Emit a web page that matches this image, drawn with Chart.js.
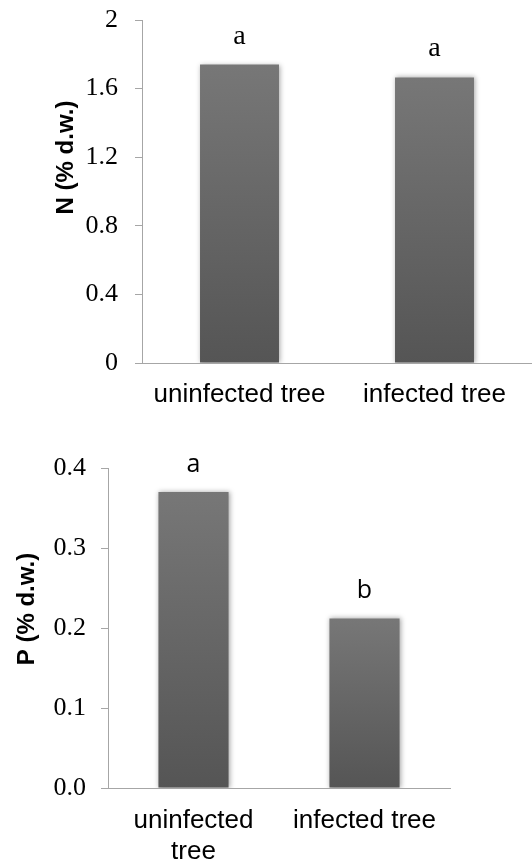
<!DOCTYPE html>
<html>
<head>
<meta charset="utf-8">
<script src="https://cdn.jsdelivr.net/npm/chart.js@4.4.1/dist/chart.umd.min.js"></script>
<style>
  html, body { margin: 0; padding: 0; background: #ffffff; }
  #wrap { position: relative; width: 532px; height: 861px; overflow: hidden; }
  #c1 { position: absolute; left: 0; top: 0; }
  #c2 { position: absolute; left: 0; top: 420px; }
</style>
</head>
<body>
<div id="wrap">
  <canvas id="c1" width="532" height="420"></canvas>
  <canvas id="c2" width="532" height="441"></canvas>
</div>
<script>
// ---- data ----
const categoriesN = ['uninfected tree', 'infected tree'];
const valuesN = [1.74, 1.665];
const lettersN = ['a', 'a'];
const tickLabelsN = ['0', '0.4', '0.8', '1.2', '1.6', '2'];
const titleN = 'N (% d.w.)';

const categoriesP = [['uninfected', 'tree'], 'infected tree'];
const valuesP = [0.370, 0.212];
const lettersP = ['a', 'b'];
const tickLabelsP = ['0.0', '0.1', '0.2', '0.3', '0.4'];
const titleP = 'P (% d.w.)';

const AXIS_COLOR = '#a6a6a6';
const TITLE_FONT = 'bold 24px "Liberation Sans", Arial, sans-serif';

function barGradient(ctx) {
  const chart = ctx.chart;
  const yScale = chart.scales && chart.scales.y;
  if (!chart.chartArea || !yScale || ctx.raw === undefined) return '#666666';
  const top = yScale.getPixelForValue(ctx.raw);
  const bottom = yScale.getPixelForValue(0);
  if (!isFinite(top) || !isFinite(bottom) || top === bottom) return '#666666';
  const g = chart.ctx.createLinearGradient(0, top, 0, bottom);
  g.addColorStop(0, '#777777');
  g.addColorStop(1, '#555555');
  return g;
}

function makePlugins(cfg) {
  const shadow = {
    id: 'barShadow',
    beforeDatasetsDraw(chart) {
      const c = chart.ctx;
      c.save();
      c.shadowColor = 'rgba(0,0,0,0.35)';
      c.shadowBlur = 5;
      c.shadowOffsetX = 1;
      c.shadowOffsetY = 0;
    },
    afterDatasetsDraw(chart) { chart.ctx.restore(); }
  };
  const letters = {
    id: 'letters',
    afterDatasetsDraw(chart) {
      const meta = chart.getDatasetMeta(0);
      const c = chart.ctx;
      c.save();
      c.fillStyle = '#000000';
      c.font = cfg.letterFont;
      c.textAlign = 'center';
      c.textBaseline = 'alphabetic';
      meta.data.forEach((bar, i) => {
        const t = cfg.letters[i];
        if (t) c.fillText(t, bar.x, bar.y - cfg.letterGap);
      });
      c.restore();
    }
  };
  const yTitle = {
    id: 'yTitle',
    afterDraw(chart) {
      const a = chart.chartArea;
      const c = chart.ctx;
      c.save();
      c.translate(a.left - cfg.titleDx, (a.top + a.bottom) / 2 - cfg.titleDy);
      c.rotate(-Math.PI / 2);
      c.font = TITLE_FONT;
      c.fillStyle = '#000000';
      c.textAlign = 'center';
      c.textBaseline = 'middle';
      c.fillText(cfg.title, 0, 0);
      c.restore();
    }
  };
  return [shadow, letters, yTitle];
}

function makeChart(canvasId, cfg) {
  return new Chart(document.getElementById(canvasId), {
    type: 'bar',
    data: {
      labels: cfg.categories,
      datasets: [{
        data: cfg.values,
        backgroundColor: barGradient,
        borderWidth: 0,
        barPercentage: cfg.barPct,
        categoryPercentage: 1.0
      }]
    },
    options: {
      responsive: false,
      animation: false,
      devicePixelRatio: 1,
      layout: { padding: { left: 0, right: cfg.padRight, top: cfg.padTop, bottom: 0 } },
      plugins: {
        legend: { display: false },
        tooltip: { enabled: false }
      },
      scales: {
        x: {
          grid: { display: false, drawTicks: false },
          border: { display: true, color: AXIS_COLOR, width: 1 },
          ticks: {
            color: '#000000',
            font: { family: '"Liberation Sans", Arial, sans-serif', size: 26, lineHeight: 1.17 },
            padding: cfg.xPad,
            maxRotation: 0,
            autoSkip: false
          },
          afterFit(scale) { scale.height = cfg.xHeight; }
        },
        y: {
          min: 0,
          max: cfg.max,
          grid: { display: true, drawOnChartArea: false, drawTicks: true, tickLength: 7, color: AXIS_COLOR, lineWidth: 1 },
          border: { display: true, color: AXIS_COLOR, width: 1 },
          ticks: {
            stepSize: cfg.step,
            color: '#000000',
            font: { family: '"Liberation Serif", "Times New Roman", serif', size: 26 },
            padding: cfg.yPad,
            callback: (v, i) => cfg.tickLabels[i]
          },
          afterFit(scale) {
            scale.width = cfg.yWidth;
            scale.paddingTop = 0;
            scale.paddingBottom = 0;
          }
        }
      }
    },
    plugins: makePlugins(cfg)
  });
}

makeChart('c1', {
  categories: categoriesN, values: valuesN, letters: lettersN, tickLabels: tickLabelsN,
  title: titleN, max: 2, step: 0.4, barPct: 0.405,
  padTop: 20, padRight: 0, yWidth: 142, xHeight: 57, xPad: 17, yPad: 17,
  titleDx: 76, titleDy: 34, letterGap: 21,
  letterFont: '28px "Liberation Serif", "Times New Roman", serif'
});

makeChart('c2', {
  categories: categoriesP, values: valuesP, letters: lettersP, tickLabels: tickLabelsP,
  title: titleP, max: 0.4, step: 0.1, barPct: 0.41,
  padTop: 48, padRight: 82, yWidth: 108, xHeight: 73, xPad: 18, yPad: 15,
  titleDx: 81, titleDy: 19, letterGap: 20,
  letterFont: '25px "Open Sans", "Liberation Sans", sans-serif'
});
</script>
</body>
</html>
